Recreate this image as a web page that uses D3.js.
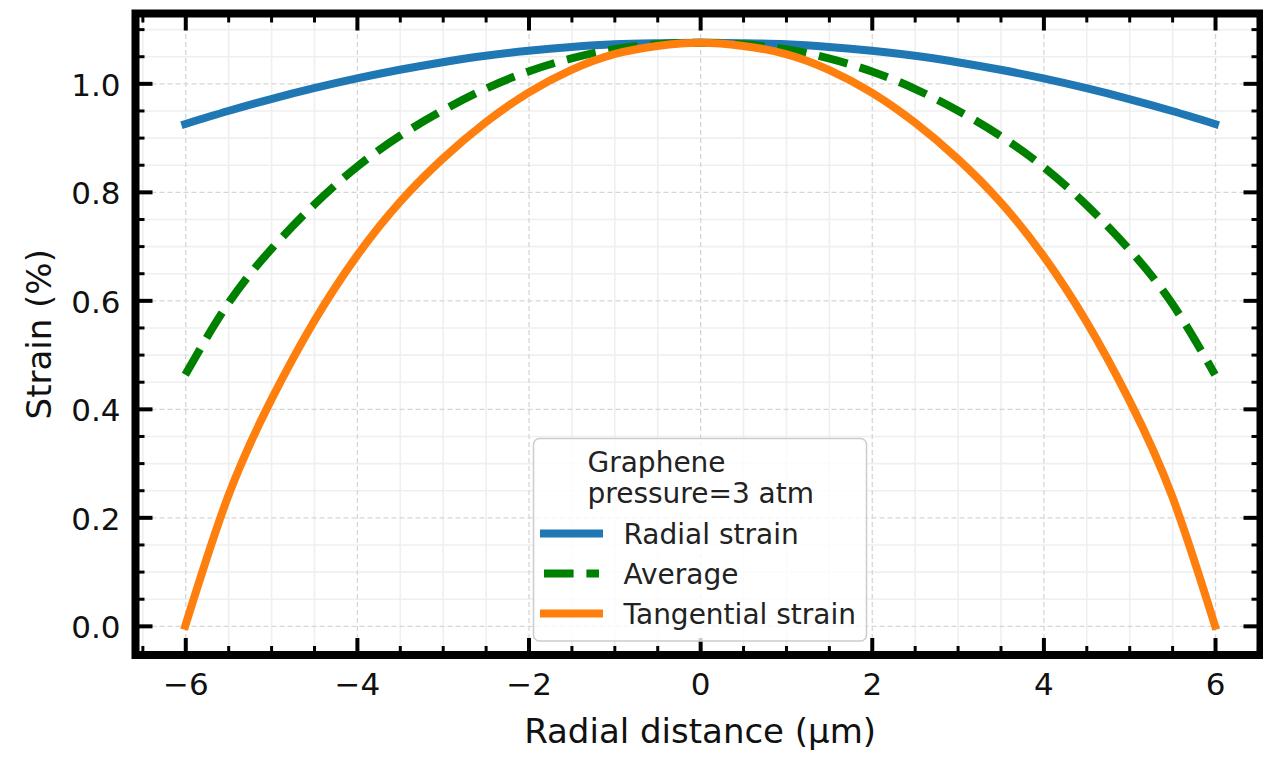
<!DOCTYPE html>
<html>
<head>
<meta charset="utf-8">
<script src="https://cdn.jsdelivr.net/npm/d3@7"></script>
<style>
  html, body { margin: 0; padding: 0; background: #ffffff; }
  svg { display: block; font-family: "DejaVu Sans", sans-serif; }
</style>
</head>
<body>
<svg id="chart" width="1263" height="758"></svg>
<script>
// Strain profiles across a pressurised graphene membrane
const radialDistance = [-6, -5.5, -5, -4.5, -4, -3.5, -3, -2.5, -2, -1.5, -1, -0.5, 0,
                        0.5, 1, 1.5, 2, 2.5, 3, 3.5, 4, 4.5, 5, 5.5, 6];
const radialStrain = [0.925, 0.949, 0.971, 0.991, 1.009, 1.025, 1.039, 1.051, 1.060, 1.067, 1.072, 1.074, 1.075,
                      1.074, 1.072, 1.067, 1.060, 1.051, 1.039, 1.025, 1.009, 0.991, 0.971, 0.949, 0.925];
const averageStrain = [0.463, 0.594, 0.694, 0.776, 0.846, 0.903, 0.950, 0.990, 1.022, 1.046, 1.063, 1.072, 1.075,
                       1.072, 1.063, 1.046, 1.022, 0.990, 0.950, 0.903, 0.846, 0.776, 0.694, 0.594, 0.463];
const tangentialStrain = [0.000, 0.239, 0.416, 0.561, 0.682, 0.781, 0.861, 0.928, 0.983, 1.025, 1.054, 1.069, 1.075,
                          1.069, 1.054, 1.025, 0.983, 0.928, 0.861, 0.781, 0.682, 0.561, 0.416, 0.239, 0.000];

const seriesNames = ["Radial strain", "Average", "Tangential strain"];
const legendTitle = ["Graphene", "pressure=3 atm"];
const xLabel = "Radial distance (\u00b5m)";
const yLabel = "Strain (%)";

const xTickValues = [-6, -4, -2, 0, 2, 4, 6];
const xMinorValues = [-6.5, -5.5, -5, -4.5, -3.5, -3, -2.5, -1.5, -1, -0.5,
                      0.5, 1, 1.5, 2.5, 3, 3.5, 4.5, 5, 5.5, 6.5];
const yTickValues = [0.0, 0.2, 0.4, 0.6, 0.8, 1.0];
const yMinorValues = [-0.05, 0.05, 0.1, 0.15, 0.25, 0.3, 0.35, 0.45, 0.5, 0.55,
                      0.65, 0.7, 0.75, 0.85, 0.9, 0.95, 1.05, 1.1];

// Frame (spine centre lines)
const frame = { left: 135.5, right: 1260.5, top: 13.5, bottom: 655 };
const W = frame.right - frame.left;
const H = frame.bottom - frame.top;

const svg = d3.select("#chart");
svg.append("rect").attr("width", 1263).attr("height", 758).attr("fill", "#ffffff");

const x = d3.scaleLinear().domain([-6.58, 6.53]).range([frame.left, frame.right]);
const y = d3.scaleLinear().domain([-0.05375, 1.12875]).range([frame.bottom, frame.top]);

const tickFont = 31;

// ---- grid: minor solid, major dashed ----
const grid = svg.append("g");
grid.append("g")
  .attr("transform", `translate(0,${frame.bottom})`)
  .call(d3.axisBottom(x).tickValues(xMinorValues).tickSize(-H).tickFormat(""))
  .call(g => g.select(".domain").remove())
  .call(g => g.selectAll("line").attr("stroke", "#efefef").attr("stroke-width", 1.6));
grid.append("g")
  .attr("transform", `translate(${frame.left},0)`)
  .call(d3.axisLeft(y).tickValues(yMinorValues).tickSize(-W).tickFormat(""))
  .call(g => g.select(".domain").remove())
  .call(g => g.selectAll("line").attr("stroke", "#efefef").attr("stroke-width", 1.6));
grid.append("g")
  .attr("transform", `translate(0,${frame.bottom})`)
  .call(d3.axisBottom(x).tickValues(xTickValues).tickSize(-H).tickFormat(""))
  .call(g => g.select(".domain").remove())
  .call(g => g.selectAll("line").attr("stroke", "#d6d6d6").attr("stroke-width", 1.3)
    .attr("stroke-dasharray", "5,3"));
grid.append("g")
  .attr("transform", `translate(${frame.left},0)`)
  .call(d3.axisLeft(y).tickValues(yTickValues).tickSize(-W).tickFormat(""))
  .call(g => g.select(".domain").remove())
  .call(g => g.selectAll("line").attr("stroke", "#d6d6d6").attr("stroke-width", 1.3)
    .attr("stroke-dasharray", "5,3"));

// ---- curves ----
const series = [
  { name: seriesNames[0], values: radialStrain, color: "#1f77b4", dash: null },
  { name: seriesNames[1], values: averageStrain, color: "#008000", dash: "29.6,12.8" },
  { name: seriesNames[2], values: tangentialStrain, color: "#ff7f0e", dash: null }
];

const line = d3.line()
  .x(d => x(d[0]))
  .y(d => y(d[1]))
  .curve(d3.curveNatural);

const curves = svg.append("g");
series.forEach(s => {
  curves.append("path")
    .datum(radialDistance.map((r, i) => [r, s.values[i]]))
    .attr("fill", "none")
    .attr("stroke", s.color)
    .attr("stroke-width", 8)
    .attr("stroke-linecap", s.dash ? "butt" : "square")
    .attr("stroke-linejoin", "round")
    .attr("stroke-dasharray", s.dash)
    .attr("d", line);
});

// ---- ticks (inward, all four sides) ----
function styleTicks(g, width) {
  g.select(".domain").remove();
  g.selectAll("line").attr("stroke", "#000").attr("stroke-width", width);
}
const majorLen = 17, minorLen = 9;
svg.append("g").attr("transform", `translate(0,${frame.bottom})`)
  .call(d3.axisBottom(x).tickValues(xMinorValues).tickSize(-minorLen).tickFormat(""))
  .call(g => styleTicks(g, 3));
svg.append("g").attr("transform", `translate(0,${frame.top})`)
  .call(d3.axisTop(x).tickValues(xMinorValues).tickSize(-minorLen).tickFormat(""))
  .call(g => styleTicks(g, 3));
svg.append("g").attr("transform", `translate(${frame.left},0)`)
  .call(d3.axisLeft(y).tickValues(yMinorValues).tickSize(-minorLen).tickFormat(""))
  .call(g => styleTicks(g, 3));
svg.append("g").attr("transform", `translate(${frame.right},0)`)
  .call(d3.axisRight(y).tickValues(yMinorValues).tickSize(-minorLen).tickFormat(""))
  .call(g => styleTicks(g, 3));

const xAxis = svg.append("g").attr("transform", `translate(0,${frame.bottom})`)
  .call(d3.axisBottom(x).tickValues(xTickValues).tickSize(-majorLen).tickPadding(18)
    .tickFormat(d3.format("d")))
  .call(g => styleTicks(g, 4));
xAxis.selectAll("text").attr("font-size", tickFont).attr("fill", "#111")
  .attr("font-family", "DejaVu Sans");

svg.append("g").attr("transform", `translate(0,${frame.top})`)
  .call(d3.axisTop(x).tickValues(xTickValues).tickSize(-majorLen).tickFormat(""))
  .call(g => styleTicks(g, 4));

const yAxis = svg.append("g").attr("transform", `translate(${frame.left},0)`)
  .call(d3.axisLeft(y).tickValues(yTickValues).tickSize(-majorLen).tickPadding(15)
    .tickFormat(d3.format(".1f")))
  .call(g => styleTicks(g, 4));
yAxis.selectAll("text").attr("font-size", tickFont).attr("fill", "#111")
  .attr("font-family", "DejaVu Sans").attr("dy", "0.38em");

svg.append("g").attr("transform", `translate(${frame.right},0)`)
  .call(d3.axisRight(y).tickValues(yTickValues).tickSize(-majorLen).tickFormat(""))
  .call(g => styleTicks(g, 4));

// ---- spines ----
svg.append("rect")
  .attr("x", frame.left).attr("y", frame.top)
  .attr("width", W).attr("height", H)
  .attr("fill", "none").attr("stroke", "#000").attr("stroke-width", 8);

// ---- axis labels ----
svg.append("text")
  .attr("x", (x(-6) + x(6)) / 2).attr("y", 743)
  .attr("text-anchor", "middle").attr("font-size", 34).attr("fill", "#111")
  .text(xLabel);
svg.append("text")
  .attr("transform", `translate(51,${(frame.top + frame.bottom) / 2}) rotate(-90)`)
  .attr("text-anchor", "middle").attr("font-size", 34).attr("fill", "#111")
  .text(yLabel);

// ---- legend ----
const legendFont = 28;
const legend = svg.append("g").attr("transform", "translate(533.5,438.5)");
legend.append("rect")
  .attr("width", 333).attr("height", 202.5).attr("rx", 6).attr("ry", 6)
  .attr("fill", "#ffffff").attr("fill-opacity", 0.8)
  .attr("stroke", "#cccccc").attr("stroke-width", 1.5);
legendTitle.forEach((t, i) => {
  legend.append("text")
    .attr("x", 54).attr("y", 33 + i * 31)
    .attr("font-size", legendFont).attr("fill", "#222")
    .text(t);
});
series.forEach((s, i) => {
  const ly = 95 + i * 40;
  legend.append("line")
    .attr("x1", 10.5).attr("x2", 65.5)
    .attr("y1", ly).attr("y2", ly)
    .attr("stroke", s.color).attr("stroke-width", 8)
    .attr("stroke-linecap", s.dash ? "butt" : "square")
    .attr("stroke-dasharray", s.dash);
  legend.append("text")
    .attr("x", 90).attr("y", ly + 10)
    .attr("font-size", legendFont).attr("fill", "#222")
    .text(s.name);
});
</script>
</body>
</html>
